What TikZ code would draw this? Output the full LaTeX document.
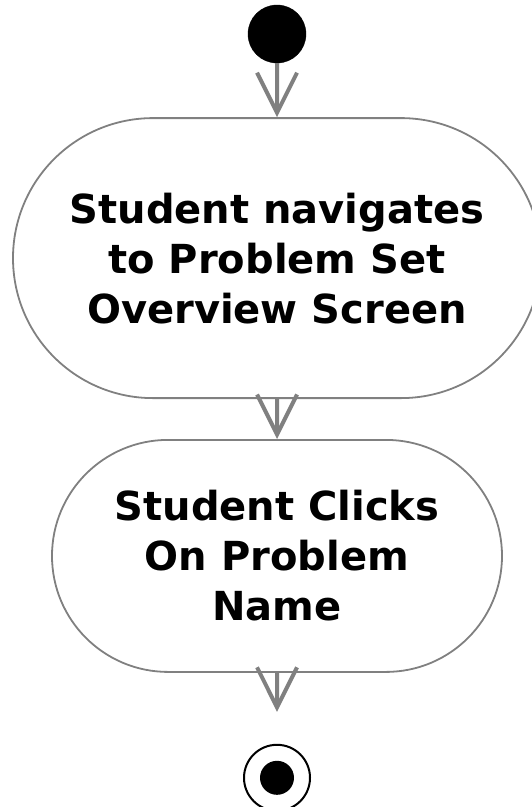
\documentclass[tikz,border=0pt]{standalone}
\usepackage{fontspec}
\setmainfont{DejaVu Sans}
\usetikzlibrary{positioning, shapes.misc, arrows.meta}
\definecolor{linegray}{gray}{0.5}
\tikzset{
	initial/.style={draw, circle, fill=black, minimum size=58pt, inner sep=0pt},
	final/.style={draw, circle, line width=2pt, minimum size=66pt, inner sep=0pt},
	dot/.style={circle, fill=black, minimum size=34pt, inner sep=0pt},
	activity/.style={draw=linegray, rounded rectangle, line width=1.8pt, align=center, inner sep=0pt,
		font=\fontsize{40}{50}\selectfont\bfseries},
	flow/.style={draw=linegray, line width=4pt, -{Straight Barb[length=40pt, width=40pt]}}
}

\begin{document}
\begin{tikzpicture}[x=1pt, y=1pt]
	\useasboundingbox (0,0) rectangle (531,-807);
	\node (start) [initial] at (277,-34) {};
	\node (navigate) [activity, below=54pt of start, minimum width=528pt, minimum height=280pt]
		{Student navigates\\to Problem Set\\Overview Screen};
	\node (clicks) [activity, below=40pt of navigate, minimum width=450pt, minimum height=232pt]
		{Student Clicks\\On Problem\\Name};
	\node (stop) [final, below=71pt of clicks] {};
	\node (stopdot) [dot] at (stop) {};
	
	\begin{scope}[flow]
		\draw (start) -- (navigate);
		\draw (navigate) -- (clicks);
		\draw[shorten >=32pt] (clicks) -- (stop);
	\end{scope}
\end{tikzpicture}
\end{document}
